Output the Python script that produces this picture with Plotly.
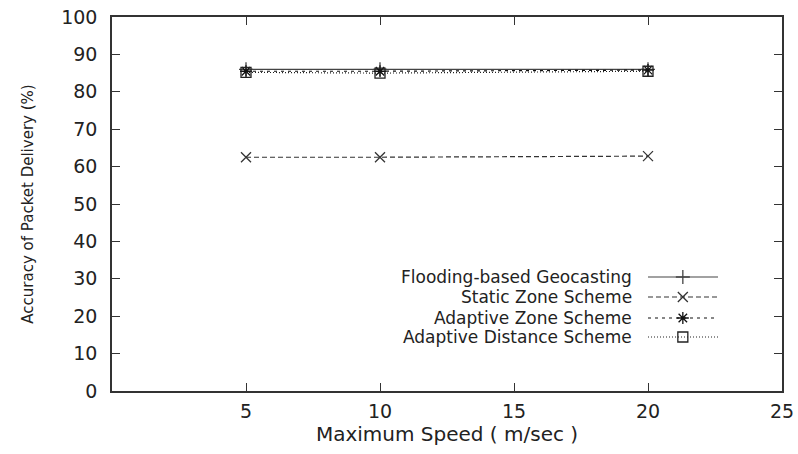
import plotly.graph_objects as go

# ---- data ----
speeds = [5, 10, 20]
series_names = ["Flooding-based Geocasting", "Static Zone Scheme",
                "Adaptive Zone Scheme", "Adaptive Distance Scheme"]
flooding = [86.0, 86.0, 86.0]
static_zone = [62.5, 62.5, 62.8]
adaptive_zone = [85.5, 85.5, 85.8]
adaptive_distance = [85.2, 85.0, 85.5]
x_ticks = [5, 10, 15, 20, 25]
y_ticks = [0, 10, 20, 30, 40, 50, 60, 70, 80, 90, 100]

values = [flooding, static_zone, adaptive_zone, adaptive_distance]
dashes = ["solid", "5px,3px", "3px,4px", "1px,2px"]
symbols = ["cross-thin-open", "x-thin-open", "asterisk-open", "square-open"]
colors = ["#444444", "#333333", "#111111", "#222222"]

FONT = "DejaVu Sans"
TXT = "#222222"

fig = go.Figure()
for name, v, d, s, c in zip(series_names, values, dashes, symbols, colors):
    fig.add_trace(go.Scatter(
        x=speeds, y=v, mode="lines+markers", name=name,
        line=dict(color=c, width=1.2, dash=d),
        marker=dict(symbol=s, size=10, color=c, line=dict(color=c, width=1.3)),
        showlegend=False,
    ))

# custom legend (sample on right of text), drawn on an overlay axis in [0,1]
leg_rows = [0.3048, 0.2513, 0.1952, 0.1444]
for i, (name, d, s, c) in enumerate(zip(series_names, dashes, symbols, colors)):
    yv = leg_rows[i]
    fig.add_trace(go.Scatter(
        x=[0.80, 0.9045], y=[yv, yv], mode="lines",
        line=dict(color=c, width=1.2, dash=d),
        xaxis="x2", yaxis="y2", showlegend=False, hoverinfo="skip"))
    fig.add_trace(go.Scatter(
        x=[0.852], y=[yv], mode="markers",
        marker=dict(symbol=s, size=10, color=c, line=dict(color=c, width=1.3)),
        xaxis="x2", yaxis="y2", showlegend=False, hoverinfo="skip"))
    fig.add_annotation(
        x=0.7776, y=yv, xref="x2", yref="y2", text=name, showarrow=False,
        xanchor="right", yanchor="middle", borderpad=0,
        font=dict(family=FONT, size=17, color=TXT))

axis_common = dict(
    showgrid=False, zeroline=False, showline=True, linecolor="#333333",
    linewidth=1.5, mirror="ticks", ticks="inside", ticklen=8,
    tickcolor="#333333", tickwidth=1.3, automargin=False,
    ticklabeloverflow="allow",
    tickfont=dict(family=FONT, size=19, color=TXT),
)

fig.update_layout(
    width=798, height=454,
    margin=dict(l=112, r=16, t=17, b=63),
    paper_bgcolor="white", plot_bgcolor="white",
    xaxis=dict(range=[0, 25], tickvals=x_ticks, ticklabelstandoff=2,
               title=dict(text="Maximum Speed ( m/sec )", standoff=2,
                          font=dict(family=FONT, size=20, color=TXT)),
               **axis_common),
    yaxis=dict(range=[0, 100], tickvals=y_ticks, ticklabelstandoff=9,
               title=dict(text="Accuracy of Packet Delivery (%)", standoff=24,
                          font=dict(family=FONT, size=15, color=TXT)),
               **axis_common),
    xaxis2=dict(range=[0, 1], overlaying="x", visible=False, fixedrange=True),
    yaxis2=dict(range=[0, 1], overlaying="y", visible=False, fixedrange=True),
)

fig.write_html("out.html", config={"displayModeBar": False},
               post_script="document.body.style.margin='0px';")
